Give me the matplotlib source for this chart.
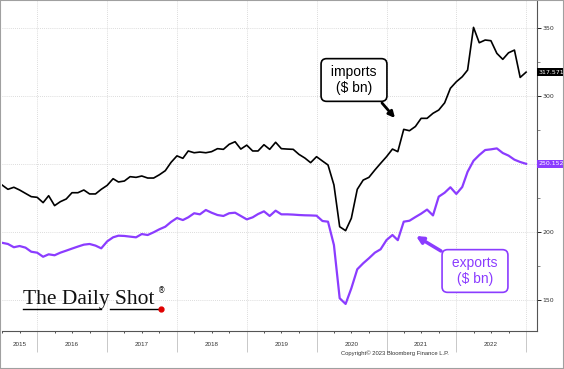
import numpy as np
import pandas as pd
import matplotlib
matplotlib.use("Agg")
import matplotlib.pyplot as plt
import matplotlib.dates as mdates
import matplotlib.transforms as mtransforms
from matplotlib.lines import Line2D
from matplotlib.patches import Rectangle

# monthly US trade, $ bn
dates = pd.date_range("2015-07-01", periods=91, freq="MS")

imports = [234.6, 231.4, 232.9, 230.9, 228.4, 226.0, 225.5, 221.6, 226.7, 219.4,
           222.3, 224.3, 228.9, 228.9, 230.9, 228.0, 228.0, 231.4, 234.3, 239.2,
           236.8, 237.5, 240.7, 240.2, 241.2, 239.7, 239.7, 242.1, 245.1, 251.2,
           256.0, 254.2, 259.6, 258.3, 258.8, 258.3, 259.1, 261.3, 260.8, 264.5,
           266.4, 261.0, 263.9, 259.6, 259.6, 264.2, 260.8, 266.0, 261.3, 261.0,
           260.8, 257.1, 254.4, 251.0, 255.4, 252.2, 249.3, 234.6, 203.9, 201.0,
           210.1, 231.4, 238.2, 240.2, 245.6, 250.5, 255.4, 261.0, 259.1, 275.5,
           274.5, 277.6, 283.6, 283.6, 287.3, 289.7, 295.0, 305.7, 310.5, 314.2,
           319.1, 350.5, 339.2, 341.2, 340.7, 331.4, 327.0, 331.8, 333.8, 313.7,
           317.571]

exports = [192.1, 191.2, 188.8, 189.7, 188.5, 185.5, 184.8, 181.8, 183.6, 182.9,
           184.8, 186.3, 187.8, 189.3, 190.7, 191.2, 190.0, 188.0, 193.1, 196.1,
           197.3, 197.1, 196.6, 196.1, 198.5, 197.8, 199.8, 202.0, 203.9, 207.4,
           210.3, 208.8, 210.8, 213.8, 213.0, 216.2, 214.2, 212.5, 211.8, 213.8,
           214.2, 211.8, 209.3, 210.8, 213.2, 215.2, 211.8, 215.7, 213.0, 213.0,
           212.8, 212.5, 212.3, 212.2, 212.0, 208.1, 207.6, 190.4, 151.3, 147.1,
           158.6, 172.6, 177.0, 180.7, 184.8, 187.3, 194.1, 197.8, 194.0, 207.6,
           208.3, 211.0, 213.5, 216.5, 212.2, 226.0, 228.9, 232.9, 228.0, 233.1,
           244.3, 252.4, 256.6, 260.3, 260.8, 261.5, 258.1, 256.2, 253.2, 251.5,
           250.152]

years = [2015, 2016, 2017, 2018, 2019, 2020, 2021, 2022]
yticks = [150, 200, 250, 300, 350]
ytick_labels = ["150", "200", "", "300", "350"]

purple = "#8B3CFF"
W, H = 564, 369

fig = plt.figure(figsize=(W / 100, H / 100), dpi=100)
ax = fig.add_axes([2 / W, 38 / H, 535 / W, 330 / H])

ax.plot(dates, imports, color="black", lw=1.2, zorder=3)
ax.plot(dates, exports, color=purple, lw=1.6, zorder=3)

ax.set_xlim(pd.Timestamp("2015-07-01"), pd.Timestamp("2023-02-27"))
ax.set_ylim(127.2, 369.9)

# y axis on the right
ax.yaxis.tick_right()
ax.set_yticks(yticks)
ax.set_yticklabels(ytick_labels)
ax.yaxis.set_minor_locator(plt.MultipleLocator(25))
ax.tick_params(axis="y", which="major", length=3, width=0.6, pad=1,
               labelsize=4.5, colors="black")
ax.tick_params(axis="y", which="minor", length=2, width=0.5, color="#555555")
for lab in ax.get_yticklabels():
    lab.set_color("#333333")

# x axis: year separators + quarter ticks, labels mid-year
ax.xaxis.set_major_locator(mdates.YearLocator())
ax.xaxis.set_minor_locator(mdates.MonthLocator(bymonth=[4, 7, 10]))
ax.xaxis.set_major_formatter(plt.NullFormatter())
ax.tick_params(axis="x", which="major", length=15, width=0.7, color="#c8c8c8")
ax.tick_params(axis="x", which="minor", length=1.5, width=0.6, color="#333333")

blend = mtransforms.blended_transform_factory(ax.transData, ax.transAxes)
for yr in years:
    xpos = pd.Timestamp(f"{yr}-10-01") if yr == 2015 else pd.Timestamp(f"{yr}-07-01")
    ax.text(xpos, -0.04, str(yr), transform=blend, ha="center", va="center",
            fontsize=4.5, color="#333333", family="Liberation Sans")

ax.grid(True, which="major", color="#d0d0d0", lw=0.6, ls=(0, (1, 1.5)))
for s in ["top", "left"]:
    ax.spines[s].set_visible(False)
ax.spines["right"].set_color("#555555")
ax.spines["bottom"].set_color("#555555")
ax.spines["right"].set_linewidth(0.8)
ax.spines["bottom"].set_linewidth(0.8)

# last value tags
yblend = mtransforms.blended_transform_factory(ax.transAxes, ax.transData)
ax.text(1.003, imports[-1], f"{imports[-1]:.3f}", transform=yblend, ha="left",
        va="center", fontsize=4.5, color="white", zorder=5,
        bbox=dict(boxstyle="square,pad=0.25", fc="black", ec="none"))
ax.text(1.003, exports[-1], f"{exports[-1]:.3f}", transform=yblend, ha="left",
        va="center", fontsize=4.5, color="white", zorder=5,
        bbox=dict(boxstyle="square,pad=0.25", fc=purple, ec="none"))

# callouts
ax.annotate(" imports \n ($ bn) ", xy=(354, H - 80), xycoords="figure pixels",
            ha="center", va="center", fontsize=10, family="Liberation Sans",
            color="black", zorder=6,
            bbox=dict(boxstyle="round,pad=0.45,rounding_size=0.4", fc="white",
                      ec="black", lw=1.2))
ax.annotate("", xy=(395, H - 118), xytext=(382, H - 103),
            xycoords="figure pixels", textcoords="figure pixels",
            arrowprops=dict(arrowstyle="-|>", color="black", lw=2,
                            mutation_scale=9, shrinkA=0, shrinkB=0))

ax.annotate(" exports \n ($ bn) ", xy=(475, H - 271), xycoords="figure pixels",
            ha="center", va="center", fontsize=10, family="Liberation Sans",
            color=purple, zorder=6,
            bbox=dict(boxstyle="round,pad=0.45,rounding_size=0.4", fc="white",
                      ec=purple, lw=1.2))
ax.annotate("", xy=(416, H - 236), xytext=(441, H - 251),
            xycoords="figure pixels", textcoords="figure pixels",
            arrowprops=dict(arrowstyle="-|>", color=purple, lw=2.5,
                            mutation_scale=10, shrinkA=0, shrinkB=0))

# logo
fig.text(23 / W, 1 - 304 / H, "The Daily Shot", fontsize=15.5,
         family="Liberation Serif", color="#111111", va="baseline", ha="left")
fig.text(158 / W, 1 - 293 / H, "®", fontsize=5.5, family="DejaVu Sans",
         color="#111111", va="baseline", ha="left")
fig.add_artist(Line2D([23 / W, 101 / W], [1 - 309 / H] * 2, color="black",
                      lw=1, transform=fig.transFigure))
fig.add_artist(Line2D([110 / W, 159 / W], [1 - 309 / H] * 2, color="black",
                      lw=1, transform=fig.transFigure))
fig.add_artist(Line2D([161 / W], [1 - 309 / H], marker="o", ms=3.5,
                      color="#e00000", transform=fig.transFigure))

fig.text(395 / W, 1 - 353 / H, "Copyright\u00a9 2023 Bloomberg Finance L.P.",
         fontsize=4.2, family="Liberation Sans", color="#333333",
         ha="center", va="center")

# outer frame
fig.add_artist(Rectangle((0, 0), 1, 1, transform=fig.transFigure, fill=False,
                         ec="#a0a0a0", lw=1.5))

fig.savefig("out.png", dpi=100)
